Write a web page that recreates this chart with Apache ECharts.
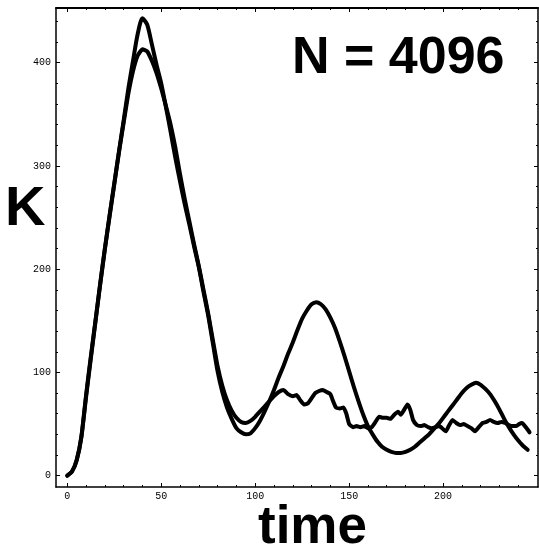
<!DOCTYPE html>
<html>
<head>
<meta charset="utf-8">
<script src="https://cdn.jsdelivr.net/npm/echarts@6/dist/echarts.min.js"></script>
<style>
html,body{margin:0;padding:0;background:#fff;}
#chart{width:539px;height:552px;}
</style>
</head>
<body>
<div id="chart"></div>
<script>
// Smooth (theory) curve
const smoothT = [0,2.5,5,7.5,10,12.5,15,17.5,20,22.5,25,27.5,30,32.5,35,37.5,40,42.5,45,47.5,50,52.5,55,57.5,60,62.5,65,67.5,70,72.5,75,77.5,80,82.5,85,87.5,90,92.5,95,97.5,100,102.5,105,107.5,110,112.5,115,117.5,120,122.5,125,127.5,130,132.5,135,137.5,140,142.5,145,147.5,150,152.5,155,157.5,160,162.5,165,167.5,170,172.5,175,177.5,180,182.5,185,187.5,190,192.5,195,197.5,200,202.5,205,207.5,210,212.5,215,217.5,220,222.5,225,227.5,230,232.5,235,237.5,240,242.5,245];
const smoothK = [0,4,15,38,78,115,150,186,220,252,283,314,344,375,402,428,443,437,418,398,380,357,333,308,285,263,243,222,202,178,155,128,101,81,66,55,46,42,40,41,46,53,62,72,83,95,106,118,129,141,152,160,166,168,166,161,153,143,130,116,101,86,72,59,48,40,33,28,25,23,22,22,23,25,28,32,36,40,45,50,56,62,68,74,80,85,88,90,88,84,79,72,64,55,47,40,34,29,25];

// Noisy (simulation, N = 4096) curve
const noisyT = [0,2.5,5,7.5,10,12.5,15,17.5,20,22.5,25,27.5,30,32.5,35,37.5,40,42.5,45,47.5,50,52.5,55,57.5,60,62.5,65,67.5,70,72.5,75,77.5,80,82.5,85,87.5,90,92.5,95,97.5,100,102.5,105,107.5,110,112.5,115,117.5,120,122,124,126,128,130,132,134,136,138,140,141.5,143,145,147,148.5,150,152,154,156,158,160,162,164,166,168,170,172,174,176,177.5,179,181,182.5,184,186,188,190,192,194,196,198,200,201.5,203,205,207,209,211,213,215,217,219,221,223,225,227,229,231,233,235,237,239,240.5,242,244,246];
const noisyK = [0,4,15,37,76,113,149,185,219,251,282,313,342,370,392,407,413,411,402,390,375,358,340,318,292,268,246,224,203,180,157,131,106,87,73,63,56,52,51,53,57,62,67,72,77,81,83,79,77,78,73,69,70,75,80,82,83,81,79,72,66,65,66,60,50,47,48,47,48,46,47,52,57,56,56,55,59,62,59,63,69,64,54,49,48,49,47,46,47,48,45,43,48,54,51,49,50,48,46,43,47,51,52,54,52,51,52,51,49,48,48,50,51,47,42];

const xMajor = [0,50,100,150,200];
const xMinor = [10,20,30,40,60,70,80,90,110,120,130,140,160,170,180,190,210,220,230,240];
const yMajor = [0,100,200,300,400];
const yMinor = [20,40,60,80,120,140,160,180,220,240,260,280,320,340,360,380,420,440];

const X_MIN = -6, X_MAX = 250.5, Y_MIN = -11, Y_MAX = 453;
const FONT = 'Liberation Sans, Arial, Helvetica, sans-serif';
const MONO = 'Liberation Mono, Courier New, monospace';

function pair(ts, ks){ return ts.map((t,i)=>[t, ks[i]]); }

function xAx(pos, ticks, len, showLine, showLabel){
  return {
    type:'value', position:pos, min:X_MIN, max:X_MAX, gridIndex:0,
    axisLine:{show:showLine, onZero:false, lineStyle:{color:'#000', width: pos==='top'?2:1.5}},
    axisTick:{show:true, inside:true, length:len, customValues:ticks, lineStyle:{color:'#000', width:1}},
    axisLabel:{show:showLabel, customValues:ticks, margin:4, color:'#000', fontFamily:MONO, fontSize:10},
    splitLine:{show:false}, minorTick:{show:false}
  };
}
function yAx(pos, ticks, len, showLine, showLabel){
  return {
    type:'value', position:pos, min:Y_MIN, max:Y_MAX, gridIndex:0,
    axisLine:{show:showLine, onZero:false, lineStyle:{color:'#000', width:1.5}},
    axisTick:{show:true, inside:true, length:len, customValues:ticks, lineStyle:{color:'#000', width:1}},
    axisLabel:{show:showLabel, customValues:ticks, margin:5, color:'#000', fontFamily:MONO, fontSize:10},
    splitLine:{show:false}, minorTick:{show:false}
  };
}

const chart = echarts.init(document.getElementById('chart'), null, {renderer:'canvas'});
chart.setOption({
  backgroundColor:'#fff',
  animation:false,
  grid:{left:56, top:8, right:1, bottom:65, containLabel:false},
  xAxis:[
    xAx('bottom', xMajor, 4, true, true),
    xAx('bottom', xMinor, 2, false, false),
    xAx('top', xMajor, 4, true, false),
    xAx('top', xMinor, 2, false, false)
  ],
  yAxis:[
    yAx('left', yMajor, 4, true, true),
    yAx('left', yMinor, 2, false, false),
    yAx('right', yMajor, 4, true, false),
    yAx('right', yMinor, 2, false, false)
  ],
  series:[
    {type:'line', xAxisIndex:0, yAxisIndex:0, data:pair(smoothT, smoothK), smooth:0.25, showSymbol:false,
     lineStyle:{color:'#000', width:4, cap:'round', join:'round'}},
    {type:'line', xAxisIndex:0, yAxisIndex:0, data:pair(noisyT, noisyK), smooth:0.15, showSymbol:false,
     lineStyle:{color:'#000', width:4, cap:'round', join:'round'}}
  ],
  graphic:[
    {type:'text', left:5, top:182, style:{text:'K', font:'bold 56px '+FONT, fill:'#000'}},
    {type:'text', left:292, top:33, style:{text:'N = 4096', font:'bold 52px '+FONT, fill:'#000'}},
    {type:'text', left:258, top:502, style:{text:'time', font:'bold 53px '+FONT, fill:'#000'}}
  ]
});
</script>
</body>
</html>
